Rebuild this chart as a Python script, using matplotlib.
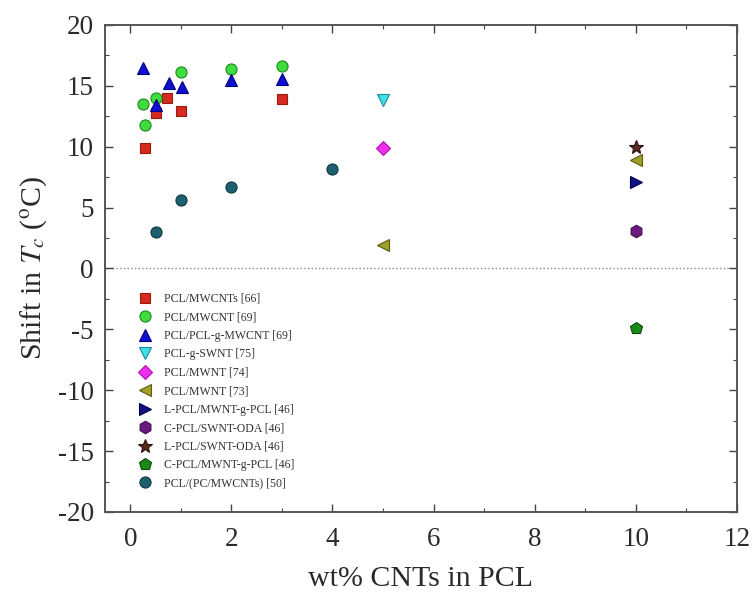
import matplotlib
matplotlib.use("Agg")
import matplotlib.pyplot as plt
from matplotlib.ticker import MultipleLocator

plt.rcParams['font.family'] = ['Liberation Serif', 'DejaVu Serif']
plt.rcParams['mathtext.fontset'] = 'stix'
plt.rcParams['axes.unicode_minus'] = False

# Data series
pcl_mwcnts66_x = [0.3, 0.5, 0.72, 1.0, 3.0]
pcl_mwcnts66_y = [9.9, 12.8, 14.0, 12.9, 13.9]

pcl_mwcnt69_x = [0.25, 0.3, 0.5, 1.0, 2.0, 3.0]
pcl_mwcnt69_y = [13.5, 11.8, 14.0, 16.1, 16.4, 16.6]

pcl_g_mwcnt69_x = [0.25, 0.5, 0.77, 1.03, 2.0, 3.0]
pcl_g_mwcnt69_y = [16.5, 13.4, 15.2, 14.9, 15.5, 15.6]

pcl_g_swnt75_x = [5.0]
pcl_g_swnt75_y = [13.8]

pcl_mwnt74_x = [5.0]
pcl_mwnt74_y = [9.9]

pcl_mwnt73_x = [5.0, 10.0]
pcl_mwnt73_y = [1.9, 8.9]

l_pcl_mwnt_g46_x = [10.0]
l_pcl_mwnt_g46_y = [7.1]

c_pcl_swnt_oda46_x = [10.0]
c_pcl_swnt_oda46_y = [3.1]

l_pcl_swnt_oda46_x = [10.0]
l_pcl_swnt_oda46_y = [10.0]

c_pcl_mwnt_g46_x = [10.0]
c_pcl_mwnt_g46_y = [-4.9]

pcl_pc50_x = [0.5, 1.0, 2.0, 4.0]
pcl_pc50_y = [3.0, 5.6, 6.7, 8.2]

series = [
    ("PCL/MWCNTs [66]", pcl_mwcnts66_x, pcl_mwcnts66_y, 's', '#d42a20', '#9a1a10', 7.5),
    ("PCL/MWCNT [69]", pcl_mwcnt69_x, pcl_mwcnt69_y, 'o', '#3fdc3f', '#1a8a1a', 8),
    ("PCL/PCL-g-MWCNT [69]", pcl_g_mwcnt69_x, pcl_g_mwcnt69_y, '^', '#1010d0', '#000080', 9),
    ("PCL-g-SWNT [75]", pcl_g_swnt75_x, pcl_g_swnt75_y, 'v', '#40e0e8', '#1a8a9a', 9),
    ("PCL/MWNT [74]", pcl_mwnt74_x, pcl_mwnt74_y, 'D', '#ee30ee', '#b010b0', 7.5),
    ("PCL/MWNT [73]", pcl_mwnt73_x, pcl_mwnt73_y, '<', '#a0a028', '#5a5a10', 9),
    ("L-PCL/MWNT-g-PCL [46]", l_pcl_mwnt_g46_x, l_pcl_mwnt_g46_y, '>', '#101080', '#000050', 9),
    ("C-PCL/SWNT-ODA [46]", c_pcl_swnt_oda46_x, c_pcl_swnt_oda46_y, 'h', '#6a1a80', '#40104a', 9),
    ("L-PCL/SWNT-ODA [46]", l_pcl_swnt_oda46_x, l_pcl_swnt_oda46_y, '*', '#5a2a20', '#2a1008', 10),
    ("C-PCL/MWNT-g-PCL [46]", c_pcl_mwnt_g46_x, c_pcl_mwnt_g46_y, 'p', '#188a18', '#0a4a0a', 9),
    ("PCL/(PC/MWCNTs) [50]", pcl_pc50_x, pcl_pc50_y, 'o', '#1f6070', '#0a3a40', 8),
]

fig = plt.figure(figsize=(7.53, 5.95), dpi=100)
ax = fig.add_axes([0.1395, 0.1395, 0.839, 0.8185])

ax.axhline(0, color='#888888', linestyle=':', linewidth=1.0, zorder=1)

for label, xs, ys, m, fc, ec, ms in series:
    ax.plot(xs, ys, linestyle='none', marker=m, markersize=ms,
            markerfacecolor=fc, markeredgecolor=ec, markeredgewidth=0.8,
            label=label, zorder=3)

ax.set_xlim(-0.5, 12)
ax.set_ylim(-20, 20)
ax.xaxis.set_major_locator(MultipleLocator(2))
ax.xaxis.set_minor_locator(MultipleLocator(1))
ax.yaxis.set_major_locator(MultipleLocator(5))
ax.yaxis.set_minor_locator(MultipleLocator(2.5))
ax.tick_params(which='both', direction='in', top=True, right=True,
               labelsize=19.5, colors='#444444', labelcolor='#2a2a2a')
ax.tick_params(which='major', length=6, width=1.0)
ax.tick_params(which='minor', length=3, width=0.8)
ax.tick_params(axis='x', which='major', pad=11)
ax.tick_params(axis='y', which='major', pad=8)
for s in ax.spines.values():
    s.set_color('#555555')
    s.set_linewidth(1.4)

ax.set_xlabel('wt% CNTs in PCL', fontsize=21.5, color='#2a2a2a')
ax.set_ylabel(r'Shift in $\mathit{T}_{c}$ ($^{\rm o}$C)', fontsize=21.5,
              color='#2a2a2a')
ax.xaxis.set_label_coords(0.5, -0.11)
ax.yaxis.set_label_coords(-0.088, 0.5)

leg = ax.legend(loc='upper left', bbox_to_anchor=(0.045, 0.46), frameon=False,
                fontsize=8.5, labelspacing=0.55, handletextpad=1.0,
                handlelength=1.2, borderaxespad=0)
for t in leg.get_texts():
    t.set_color('#333333')

fig.savefig('out.png', dpi=100)
